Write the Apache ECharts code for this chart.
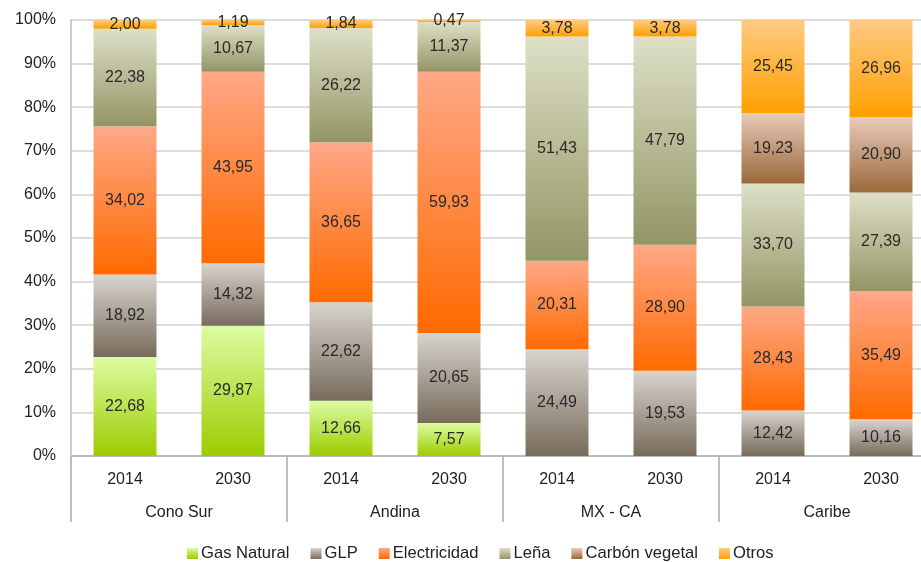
<!DOCTYPE html>
<html>
<head>
<meta charset="utf-8">
<script src="https://cdn.jsdelivr.net/npm/echarts@6/dist/echarts.min.js"></script>
<style>
  html, body { margin: 0; padding: 0; background: #fff; overflow: hidden; }
  /* the last category boundary falls just past the visible edge */
  #chart { width: 935px; height: 562px; }
</style>
</head>
<body>
<div id="chart"></div>
<script>
// Regions and years along the x axis
const regions = ['Cono Sur', 'Andina', 'MX - CA', 'Caribe'];
const years = ['2014', '2030', '2014', '2030', '2014', '2030', '2014', '2030'];

// Values per energy source, one per bar (region/year)
const gasNatural    = [22.68, 29.87, 12.66, 7.57, 0, 0, 0, 0];
const glp           = [18.92, 14.32, 22.62, 20.65, 24.49, 19.53, 12.42, 10.16];
const electricidad  = [34.02, 43.95, 36.65, 59.93, 20.31, 28.90, 28.43, 35.49];
const lena          = [22.38, 10.67, 26.22, 11.37, 51.43, 47.79, 33.70, 27.39];
const carbonVegetal = [0, 0, 0, 0, 0, 0, 19.23, 20.90];
const otros         = [2.00, 1.19, 1.84, 0.47, 3.78, 3.78, 25.45, 26.96];

const seriesNames = ['Gas Natural', 'GLP', 'Electricidad', 'Leña', 'Carbón vegetal', 'Otros'];
const seriesValues = [gasNatural, glp, electricidad, lena, carbonVegetal, otros];

// Vertical gradient per source: light at the top, saturated at the bottom
const gradients = [
  ['#dcfca2', '#9ccc00'],
  ['#d8d4ce', '#776b5b'],
  ['#ffa888', '#ff6a00'],
  ['#dde0c6', '#939565'],
  ['#e8cbba', '#9a683a'],
  ['#ffca84', '#ffa000']
];

function grad(c) {
  return new echarts.graphic.LinearGradient(0, 0, 0, 1, [
    { offset: 0, color: c[0] },
    { offset: 1, color: c[1] }
  ]);
}

// Each bar is drawn as 100%: shares are computed from the bar's total
const totals = years.map((_, i) => seriesValues.reduce((s, arr) => s + arr[i], 0));

const fmt = v => v.toFixed(2).replace('.', ',');

const series = seriesNames.map((name, k) => ({
  name: name,
  type: 'bar',
  stack: 'total',
  barWidth: 63,
  xAxisIndex: 0,
  itemStyle: { color: grad(gradients[k]) },
  label: {
    show: true,
    position: 'inside',
    color: '#2a2a2a',
    fontSize: 16,
    fontFamily: 'Liberation Sans, Arial, sans-serif',
    formatter: p => (p.data.raw > 0 ? fmt(p.data.raw) : '')
  },
  emphasis: { disabled: true },
  data: seriesValues[k].map((v, i) => ({ value: v / totals[i] * 100, raw: v }))
}));

const chart = echarts.init(document.getElementById('chart'));
chart.setOption({
  animation: false,
  backgroundColor: '#fff',
  textStyle: { fontFamily: 'Liberation Sans, Arial, sans-serif' },
  grid: { left: 71, top: 20, right: 0, height: 436, containLabel: false },
  legend: {
    top: 540,
    left: 182,
    itemWidth: 11,
    itemHeight: 11,
    itemGap: 21,
    icon: 'rect',
    textStyle: { fontSize: 16.6, color: '#222', padding: [0, 0, 0, -2] },
    data: seriesNames
  },
  xAxis: [
    {
      type: 'category',
      data: years,
      position: 'bottom',
      axisLine: { show: true, lineStyle: { color: '#bbbbbb', width: 2 } },
      axisTick: { show: false },
      axisLabel: { color: '#222', fontSize: 16, margin: 16 }
    },
    {
      type: 'category',
      data: regions,
      position: 'bottom',
      gridIndex: 0,
      axisLine: { show: false },
      axisTick: { show: true, length: 66, lineStyle: { color: '#aaaaaa', width: 1.5 } },
      axisLabel: { color: '#222', fontSize: 16, margin: 49 }
    }
  ],
  yAxis: {
    type: 'value',
    min: 0,
    max: 100,
    interval: 10,
    axisLine: { show: true, lineStyle: { color: '#bbbbbb', width: 1.5 } },
    axisTick: { show: false },
    axisLabel: { formatter: '{value}%', color: '#222', fontSize: 16, margin: 15 },
    splitLine: { lineStyle: { color: '#d0d0d0', width: 1.5 } }
  },
  series: series
});
</script>
</body>
</html>
